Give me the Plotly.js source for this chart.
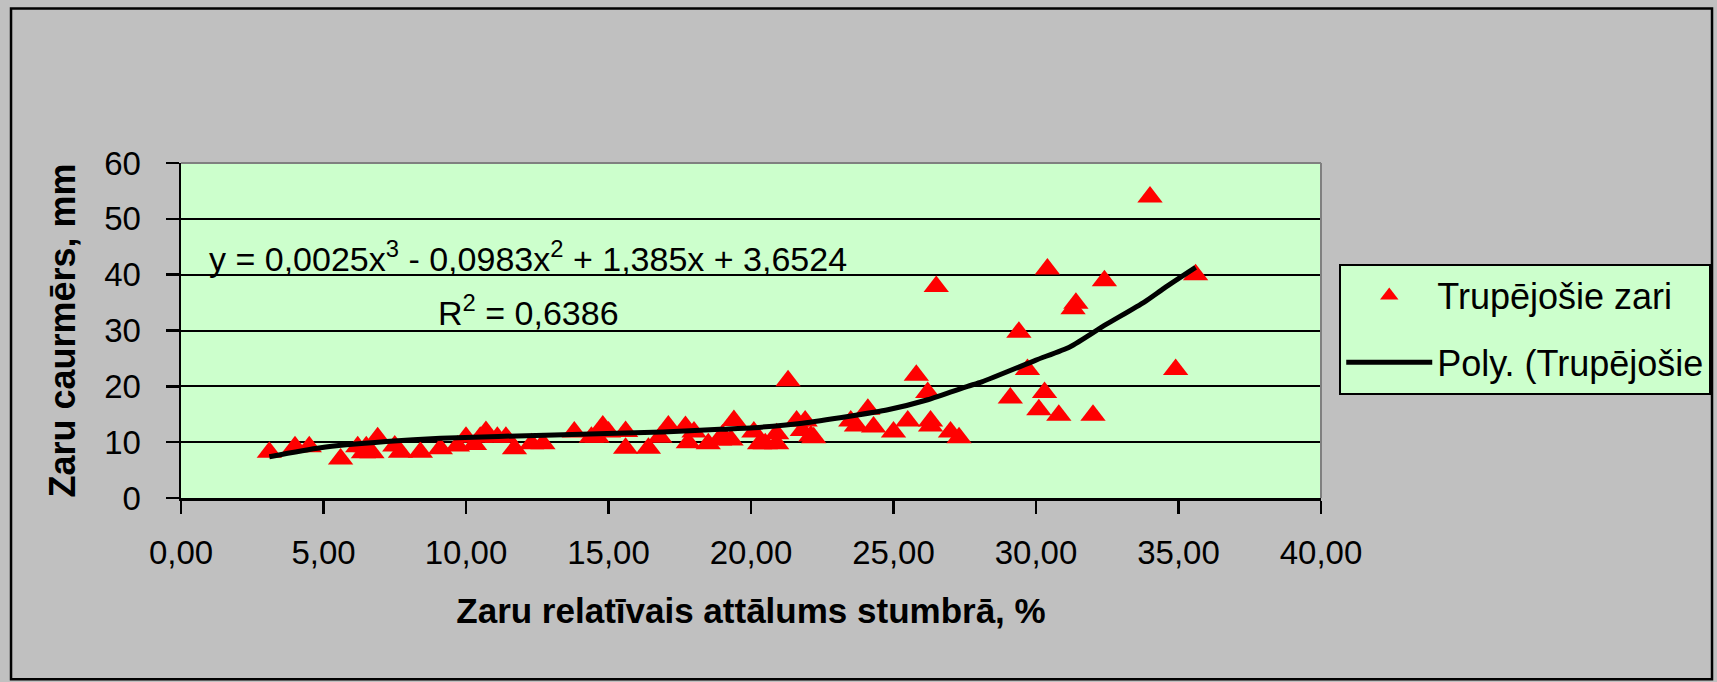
<!DOCTYPE html>
<html>
<head>
<meta charset="utf-8">
<script src="https://cdn.plot.ly/plotly-3.0.1.min.js"></script>
<style>
  html, body { margin: 0; padding: 0; background: #C0C0C0; }
  #chart { width: 1717px; height: 682px; }
</style>
</head>
<body>
<div id="chart"></div>
<script>
// ---- data ----
const seriesName = "Trupējošie zari";
const trendName = "Poly. (Trupējošie";

const xVals = [3.1, 4.0, 4.5, 5.6, 6.2, 6.4, 6.5, 6.7, 6.9, 7.5, 7.7, 8.4, 9.1, 9.7, 10.0, 10.3, 10.5, 10.7, 11.1, 11.4,
  11.7, 12.3, 12.7, 13.8, 14.4, 14.6, 14.8, 15.0, 15.6, 15.6, 16.4, 16.8, 17.1, 17.7, 17.8, 18.0, 18.5, 18.9, 19.0, 19.3,
  19.4, 20.1, 20.3, 20.5, 20.9, 20.9, 21.3, 21.6, 21.8, 21.9, 22.1, 22.2, 23.5, 23.7, 24.1, 24.3, 25.0, 25.5, 25.8, 26.2,
  26.3, 26.3, 26.5, 27.0, 27.3, 29.1, 29.4, 29.7, 30.1, 30.3, 30.4, 30.8, 31.3, 31.4, 32.0, 32.4, 34.0, 34.9, 35.6];
const yVals = [8.2, 9.2, 9.2, 7.0, 9.2, 8.1, 9.2, 8.1, 10.8, 9.3, 8.2, 8.2, 8.8, 9.3, 10.9, 9.6, 10.9, 11.9, 10.9, 10.9,
  8.8, 9.7, 9.7, 11.8, 10.9, 10.9, 12.9, 11.8, 11.9, 8.9, 8.9, 10.9, 12.9, 12.8, 9.9, 11.8, 9.7, 10.4, 11.3, 10.4,
  13.9, 11.8, 9.7, 9.7, 9.7, 11.5, 21.0, 13.8, 12.1, 13.8, 11.1, 10.8, 13.8, 12.9, 15.9, 12.7, 11.8, 13.8, 22.0, 18.9,
  13.8, 12.9, 37.9, 11.8, 10.8, 17.9, 29.7, 23.0, 15.8, 18.9, 41.0, 14.8, 33.9, 34.9, 14.8, 38.9, 53.9, 23.0, 40.0];

// trend line as it appears in the picture
const trendX = [3.1, 4.9, 7.2, 9.1, 13.1, 16.9, 18.9, 20.1, 21.8, 23.4, 24.8, 26.2, 27.6, 28.1, 30.0, 31.2, 32.4, 33.8, 34.5, 35.6];
const trendY = [7.4, 9.0, 10.1, 10.7, 11.3, 11.8, 12.3, 12.6, 13.4, 14.6, 15.8, 17.6, 20.0, 20.8, 24.7, 27.1, 30.9, 35.1, 37.6, 41.3];

const xTickVals = [0, 5, 10, 15, 20, 25, 30, 35, 40];
const xTickText = ["0,00", "5,00", "10,00", "15,00", "20,00", "25,00", "30,00", "35,00", "40,00"];
const yTickVals = [0, 10, 20, 30, 40, 50, 60];
const yTickText = ["0", "10", "20", "30", "40", "50", "60"];

const xTitle = "Zaru relatīvais attālums stumbrā, %";
const yTitle = "Zaru caurmērs, mm";
const eqText = "y = 0,0025x<sup>3</sup> - 0,0983x<sup>2</sup> + 1,385x + 3,6524";
const r2Text = "R<sup>2</sup> = 0,6386";

// ---- chart ----
const FONT = "Liberation Sans, Arial, sans-serif";

const traces = [
  {
    type: "scatter", mode: "markers", name: seriesName, x: xVals, y: yVals,
    legendgroup: "a",
    marker: { symbol: "triangle-up", color: "#FF0000", size: 22, line: { width: 0 } },
    cliponaxis: false
  },
  {
    type: "scatter", mode: "lines", name: trendName, x: trendX, y: trendY,
    legendgroup: "b",
    line: { color: "#000000", width: 5, shape: "spline", smoothing: 0.6 }
  }
];

const axisCommon = {
  showline: true, linecolor: "#000000", linewidth: 2.5,
  ticks: "outside", ticklen: 13, tickwidth: 2.5, tickcolor: "#000000",
  zeroline: false, automargin: false,
  tickfont: { family: FONT, size: 33, color: "#000000" }
};

const layout = {
  width: 1717, height: 682,
  paper_bgcolor: "#C0C0C0",
  plot_bgcolor: "#CCFFCC",
  margin: { l: 181, r: 396, t: 163, b: 184, autoexpand: false },
  font: { family: FONT, color: "#000000" },
  showlegend: true,
  xaxis: Object.assign({}, axisCommon, {
    range: [0, 40], tickmode: "array", tickvals: xTickVals, ticktext: xTickText,
    showgrid: false, ticklabelstandoff: 11,
    title: { text: xTitle, font: { family: FONT, size: 35, color: "#000000", weight: "bold" }, standoff: 29 }
  }),
  yaxis: Object.assign({}, axisCommon, {
    range: [0, 60], tickmode: "array", tickvals: yTickVals, ticktext: yTickText,
    showgrid: true, gridcolor: "#000000", gridwidth: 2, ticklabelstandoff: 18,
    title: { text: yTitle, font: { family: FONT, size: 36, color: "#000000", weight: "bold" }, standoff: 18 }
  }),
  legend: {
    x: 1.016, y: 0.700, xanchor: "left", yanchor: "top",
    bgcolor: "#CCFFCC", bordercolor: "#000000", borderwidth: 2,
    font: { family: FONT, size: 36, color: "#000000" },
    traceorder: "grouped", tracegroupgap: 17, itemwidth: 86
  },
  annotations: [
    { xref: "paper", yref: "paper", x: 0.3044, y: 0.722, xanchor: "center", yanchor: "middle",
      text: eqText, showarrow: false, font: { family: FONT, size: 34, color: "#000000" } },
    { xref: "paper", yref: "paper", x: 0.3044, y: 0.561, xanchor: "center", yanchor: "middle",
      text: r2Text, showarrow: false, font: { family: FONT, size: 34, color: "#000000" } }
  ],
  shapes: [
    // outer chart border
    { type: "rect", xref: "paper", yref: "paper", x0: -0.1491, x1: 1.343, y0: -0.5414, y1: 1.461,
      line: { color: "#000000", width: 2.5 }, fillcolor: "rgba(0,0,0,0)", layer: "below" },
    // grey plot-area border on top and right
    { type: "line", xref: "paper", yref: "paper", x0: 0, x1: 1, y0: 1, y1: 1,
      line: { color: "#808080", width: 2 }, layer: "above" },
    { type: "line", xref: "paper", yref: "paper", x0: 1, x1: 1, y0: 0, y1: 1,
      line: { color: "#808080", width: 2 }, layer: "above" }
  ]
};

Plotly.newPlot("chart", traces, layout, { displayModeBar: false, staticPlot: true });
</script>
</body>
</html>
